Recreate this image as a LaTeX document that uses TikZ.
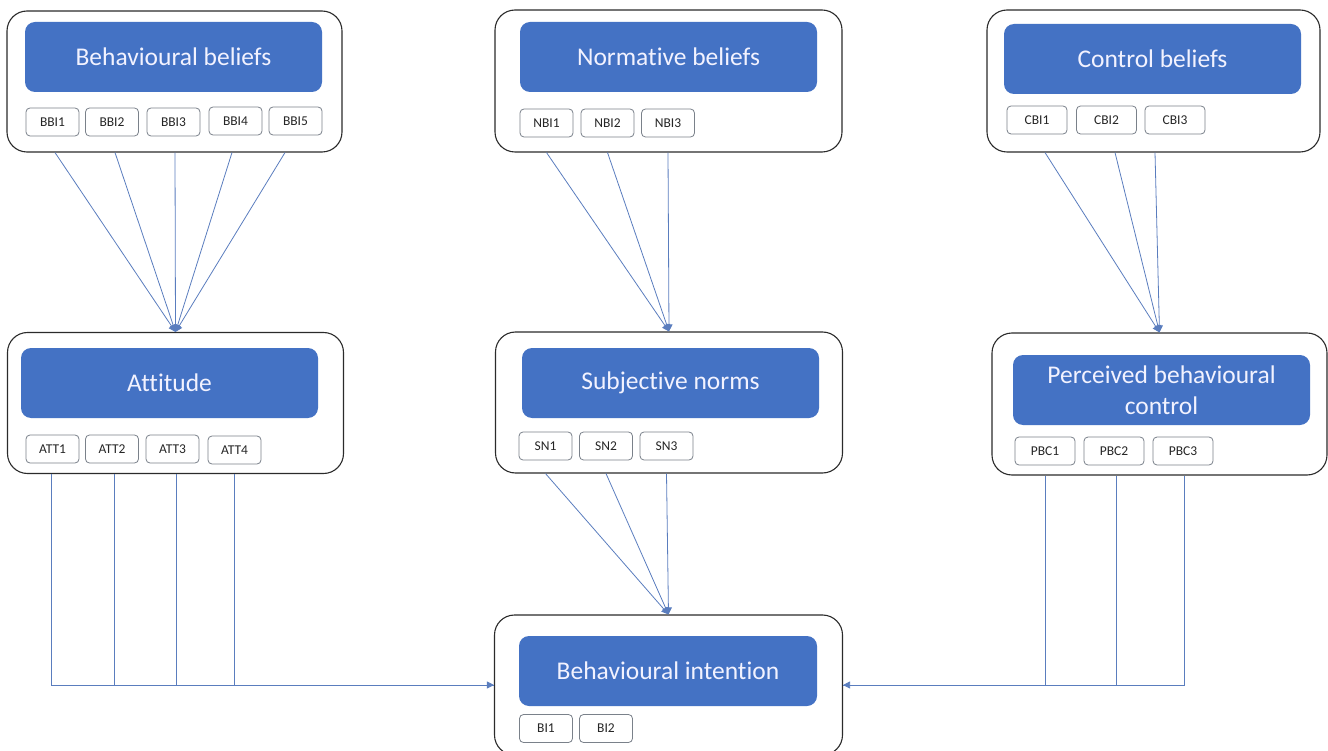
\documentclass[tikz,border=0pt]{standalone}
\usepackage{fontspec}
\setmainfont[Ligatures=NoCommon]{Carlito}
\usetikzlibrary{arrows.meta,calc}
\definecolor{bluefill}{HTML}{4472C4}
\definecolor{conncol}{HTML}{5A7DBE}
\definecolor{smallbd}{HTML}{7A818A}
\definecolor{outerbd}{HTML}{2B2B2B}
\begin{document}
\begin{tikzpicture}[x=1pt,y=-1pt,
  outerbox/.style={draw=outerbd,line width=1.1pt,rounded corners=20pt,fill=white,inner sep=0pt},
  bluebox/.style={fill=bluefill,rounded corners=10pt,inner sep=0pt,text=white!95!blue,
    font=\fontsize{25.5}{31}\selectfont,align=center},
  smallbox/.style={draw=smallbd,line width=0.8pt,rounded corners=4pt,fill=white,inner sep=0pt,
    minimum width=53pt,minimum height=28pt,text=black!85,font=\fontsize{13.5}{15}\selectfont},
  widebox/.style={smallbox,minimum width=60pt},
  conn/.style={draw=conncol,line width=0.8pt},
  arr/.style={conn,-{Triangle[length=7pt,width=7pt]}}
]
\useasboundingbox (0,0) rectangle (1328,751);

% outer boxes
\node[outerbox,minimum width=335pt,minimum height=141pt] (bbo) at (174.5,81.5) {};
\node[outerbox,minimum width=347pt,minimum height=142pt] (nbo) at (668.5,81) {};
\node[outerbox,minimum width=333pt,minimum height=142pt] (cbo) at (1153.5,81) {};
\node[outerbox,minimum width=336pt,minimum height=141pt] (atto) at (175.5,403) {};
\node[outerbox,minimum width=347pt,minimum height=141pt] (sno) at (669,402.5) {};
\node[outerbox,minimum width=335pt,minimum height=142pt] (pbco) at (1159.5,404) {};
\node[outerbox,minimum width=348pt,minimum height=140pt] (bio) at (668.5,685) {};

% blue title boxes
\node[bluebox,minimum width=297pt,minimum height=70pt] (bb) at (173.5,57) {Behavioural beliefs};
\node[bluebox,minimum width=297pt,minimum height=70pt] (nb) at (668.5,57) {Normative beliefs};
\node[bluebox,minimum width=297pt,minimum height=70pt] (cb) at (1152.5,59) {Control beliefs};
\node[bluebox,minimum width=297pt,minimum height=70pt] (att) at (169.5,383) {Attitude};
\node[bluebox,minimum width=297pt,minimum height=70pt] (sn) at (670.5,383) {Subjective norms};
\node[bluebox,minimum width=297pt,minimum height=70pt] (pbc) at (1161.5,390) {Perceived behavioural\\control};
\node[bluebox,minimum width=298pt,minimum height=70pt] (bi) at (668,671) {Behavioural intention};

% small item boxes
\node[smallbox] (bbi1) at (52.5,122) {BBI1};
\node[smallbox] (bbi2) at (112,122) {BBI2};
\node[smallbox] (bbi3) at (173.5,122) {BBI3};
\node[smallbox] (bbi4) at (235.5,121) {BBI4};
\node[smallbox] (bbi5) at (295.5,121) {BBI5};

\node[smallbox] (nbi1) at (546.5,123) {NBI1};
\node[smallbox] (nbi2) at (607.5,123) {NBI2};
\node[smallbox] (nbi3) at (668,123) {NBI3};

\node[widebox] (cbi1) at (1037,120) {CBI1};
\node[widebox] (cbi2) at (1106.5,120) {CBI2};
\node[widebox] (cbi3) at (1175,120) {CBI3};

\node[smallbox] (att1) at (52.5,449) {ATT1};
\node[smallbox] (att2) at (112,449) {ATT2};
\node[smallbox] (att3) at (172.5,449) {ATT3};
\node[smallbox] (att4) at (234.5,450) {ATT4};

\node[smallbox] (sn1) at (545.5,446) {SN1};
\node[smallbox] (sn2) at (606,446) {SN2};
\node[smallbox] (sn3) at (666.5,446) {SN3};

\node[widebox] (pbc1) at (1045,451) {PBC1};
\node[widebox] (pbc2) at (1114,451) {PBC2};
\node[widebox] (pbc3) at (1183,451) {PBC3};

\node[smallbox] (bi1) at (546,728.5) {BI1};
\node[smallbox] (bi2) at (606,728.5) {BI2};

% beliefs -> constructs
\draw[arr] ($(bbo.south -| bbi1)+(2.5,0)$) -- (atto.north);
\draw[arr] ($(bbo.south -| bbi2)+(3,0)$) -- (atto.north);
\draw[arr] ($(bbo.south -| bbi3)+(1.5,0)$) -- (atto.north);
\draw[arr] ($(bbo.south -| bbi4)+(-3.5,0)$) -- (atto.north);
\draw[arr] ($(bbo.south -| bbi5)+(-10.5,0)$) -- (atto.north);

\draw[arr] (nbo.south -| nbi1) -- (sno.north);
\draw[arr] (nbo.south -| nbi2) -- (sno.north);
\draw[arr] (nbo.south -| nbi3) -- (sno.north);

\draw[arr] ($(cbo.south -| cbi1)+(8,0)$) -- (pbco.north);
\draw[arr] ($(cbo.south -| cbi2)+(8.5,0)$) -- (pbco.north);
\draw[arr] ($(cbo.south -| cbi3)+(-20,0)$) -- (pbco.north);

% constructs -> intention
\draw[arr] (sno.south -| sn1) -- (bio.north);
\draw[arr] (sno.south -| sn2) -- (bio.north);
\draw[arr] (sno.south -| sn3) -- (bio.north);

\draw[conn] ($(atto.south -| att2)+(2,0)$) |- (bio.west);
\draw[conn] ($(atto.south -| att3)+(3.5,0)$) |- (bio.west);
\draw[conn] ($(atto.south -| att4)+(-0.5,0)$) |- (bio.west);
\draw[arr] ($(atto.south -| att1)+(-1.5,0)$) |- (bio.west);

\draw[conn] ($(pbco.south -| pbc1)$) |- (bio.east);
\draw[conn] ($(pbco.south -| pbc2)+(2,0)$) |- (bio.east);
\draw[arr] ($(pbco.south -| pbc3)+(1,0)$) |- (bio.east);
\end{tikzpicture}
\end{document}
